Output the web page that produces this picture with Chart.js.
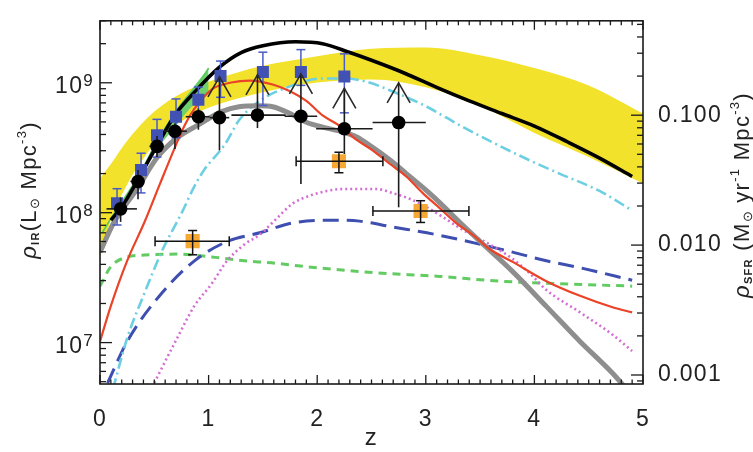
<!DOCTYPE html>
<html><head><meta charset="utf-8">
<script src="https://cdn.jsdelivr.net/npm/chart.js@4/dist/chart.umd.min.js"></script>
<style>html,body{margin:0;padding:0;background:#fff}canvas{display:block}</style>
</head><body>
<canvas id="c" width="753" height="452" style="width:753px;height:452px"></canvas>
<script>
// ---------------- data ----------------
const Z_MIN = 0, Z_MAX = 5;
const RHO_MIN = 4.8e6, RHO_MAX = 3.0e9;          // L_sun Mpc^-3
const SFR_PER_LIR = 1.776e-10;                    // right-axis conversion
const xTickValues = [0, 1, 2, 3, 4, 5];
const xTickLabels = ['0', '1', '2', '3', '4', '5'];
const rhoTickValues = [1e7, 1e8, 1e9];
const rhoTickExponents = ['7', '8', '9'];
const sfrTickValues = [0.001, 0.01, 0.1];
const sfrTickLabels = ['0.001', '0.010', '0.100'];

// yellow band
const bandZ     = [0, 0.1, 0.25, 0.5, 0.75, 1.0, 1.25, 1.5, 2.0, 2.5, 3.0, 3.5, 4.0, 4.5, 5.0];
const bandUpper = [1.83e8, 2.37e8, 3.58e8, 6.00e8, 8.32e8, 1.02e9, 1.19e9, 1.35e9, 1.60e9, 1.83e9, 1.87e9, 1.63e9, 1.30e9, 9.55e8, 5.80e8];
const bandLower = [4.64e7, 8.76e7, 1.65e8, 3.35e8, 5.05e8, 6.43e8, 7.51e8, 8.47e8, 1.005e9, 1.06e9, 9.22e8, 6.65e8, 4.11e8, 2.68e8, 1.68e8];

// black solid model
const blackZ   = [0.1, 0.2, 0.35, 0.53, 0.7, 0.87, 1.1, 1.3, 1.5, 1.8, 2.05, 2.3, 2.5, 2.8, 3.1, 3.4, 3.7, 4.0, 4.3, 4.6, 4.9];
const blackRho = [8.76e7, 1.11e8, 1.80e8, 3.35e8, 5.80e8, 8.47e8, 1.32e9, 1.71e9, 1.93e9, 2.07e9, 2.00e9, 1.71e9, 1.49e9, 1.19e9, 9.22e8, 7.25e8, 5.80e8, 4.64e8, 3.52e8, 2.63e8, 1.90e8];

// red solid model
const redZ   = [0, 0.1, 0.25, 0.41, 0.55, 0.69, 0.78, 0.87, 1.03, 1.21, 1.38, 1.59, 1.75, 1.9, 2.05, 2.21, 2.36, 2.51, 2.67, 2.82, 2.97, 3.13, 3.28, 3.43, 3.59, 3.8, 4.11, 4.42, 4.72, 4.9];
const redRho = [1.02e7, 1.92e7, 4.26e7, 8.47e7, 1.65e8, 3.18e8, 4.72e8, 6.32e8, 8.91e8, 1.005e9, 1.04e9, 9.71e8, 8.61e8, 7.25e8, 5.60e8, 4.64e8, 3.65e8, 3.02e8, 2.37e8, 1.90e8, 1.42e8, 1.08e8, 8.32e7, 6.77e7, 5.23e7, 4.18e7, 2.97e7, 2.29e7, 1.87e7, 1.71e7];

// thick grey model
const greyZ   = [0, 0.13, 0.34, 0.53, 0.71, 0.9, 1.12, 1.28, 1.47, 1.59, 1.75, 1.9, 2.05, 2.2, 2.36, 2.51, 2.67, 2.82, 3.01, 3.13, 3.31, 3.5, 3.8, 4.11, 4.42, 4.72, 4.9];
const greyRho = [4.97e7, 8.47e7, 1.52e8, 2.68e8, 3.77e8, 4.72e8, 6.00e8, 6.54e8, 6.65e8, 6.54e8, 5.80e8, 4.97e8, 4.56e8, 4.26e8, 3.84e8, 3.18e8, 2.54e8, 2.00e8, 1.47e8, 1.19e8, 8.47e7, 6.00e7, 3.52e7, 1.90e7, 1.02e7, 5.80e6, 3.9e6];

// cyan dash-dot model
const cyanZ   = [0.12, 0.25, 0.41, 0.57, 0.67, 0.75, 0.87, 0.96, 1.15, 1.28, 1.47, 1.75, 2.05, 2.25, 2.45, 2.69, 3.01, 3.31, 3.62, 3.93, 4.23, 4.6, 4.9];
const cyanRho = [4.4e6, 1.08e7, 2.41e7, 5.05e7, 7.38e7, 9.88e7, 1.60e8, 2.14e8, 3.35e8, 5.14e8, 7.25e8, 9.38e8, 1.08e9, 1.08e9, 1.02e9, 8.61e8, 6.54e8, 4.72e8, 3.46e8, 2.59e8, 2.00e8, 1.47e8, 1.04e8];

// magenta dotted model
const magZ   = [0.5, 0.71, 0.87, 1.03, 1.17, 1.33, 1.47, 1.63, 1.77, 1.93, 2.09, 2.23, 2.39, 2.55, 2.69, 2.85, 3.01, 3.16, 3.31, 3.47, 3.62, 3.8, 3.96, 4.11, 4.42, 4.72, 4.9];
const magRho = [4.9e6, 1.08e7, 1.92e7, 2.85e7, 4.26e7, 5.70e7, 6.77e7, 9.07e7, 1.17e8, 1.35e8, 1.47e8, 1.52e8, 1.52e8, 1.52e8, 1.42e8, 1.28e8, 1.10e8, 9.22e7, 7.64e7, 6.43e7, 5.51e7, 4.41e7, 3.40e7, 2.54e7, 1.71e7, 1.15e7, 8.61e6];

// blue long-dash model
const bdashZ   = [0.07, 0.25, 0.57, 0.87, 1.17, 1.47, 1.77, 2.09, 2.39, 2.69, 3.01, 3.31, 3.62, 3.8, 4.11, 4.42, 4.9];
const bdashRho = [4.88e6, 1.02e7, 2.41e7, 4.26e7, 6.00e7, 7.00e7, 8.32e7, 8.76e7, 8.61e7, 7.77e7, 7.00e7, 6.21e7, 5.41e7, 4.97e7, 4.26e7, 3.77e7, 3.02e7];

// green short-dash model
const gdashZ   = [0, 0.1, 0.25, 0.41, 0.71, 1.03, 1.33, 1.58, 1.9, 2.51, 3.13, 3.68, 4.9];
const gdashRho = [2.72e7, 3.84e7, 4.56e7, 4.72e7, 4.80e7, 4.56e7, 4.26e7, 4.11e7, 3.84e7, 3.46e7, 3.23e7, 2.97e7, 2.72e7];

// green thin solid line + narrow green wedge
const greenZ   = [0.02, 0.13, 0.34, 0.53, 0.73, 0.92, 1.0];
const greenRho = [7.0e7, 9.88e7, 1.83e8, 3.58e8, 6.54e8, 1.02e9, 1.30e9];
const wedgeZ     = [0.45, 0.7, 0.87, 1.0];
const wedgeUpper = [2.75e8, 6.1e8, 9.5e8, 1.30e9];
const wedgeLower = [2.6e8, 4.7e8, 6.9e8, 8.5e8];

// black circles (with arrows = lower limits above)
const circZ    = [0.19, 0.35, 0.525, 0.69, 0.906, 1.10, 1.45, 1.85, 2.25, 2.75];
const circRho  = [1.07e8, 1.74e8, 3.24e8, 4.24e8, 5.48e8, 5.39e8, 5.64e8, 5.53e8, 4.43e8, 4.94e8];
const circZlo  = [0.06, 0.28, 0.455, 0.59, 0.79, 1.01, 1.21, 1.70, 1.99, 2.51];
const circZhi  = [0.34, 0.41, 0.59, 0.80, 1.01, 1.19, 1.71, 2.00, 2.51, 3.00];
const circLo   = [8.5e7, 1.27e8, 2.68e8, 3.09e8, 4.35e8, 3.02e8, 4.48e8, 1.66e8, 2.83e8, 1.10e8];
const circHi   = [1.31e8, 2.13e8, 3.89e8, 4.88e8, 6.32e8, 1.11e9, 1.15e9, 1.17e9, 9.06e8, 1.00e9];
const circArrow = [0, 0, 0, 0, 0, 1, 1, 1, 1, 1];

// blue squares
const sqZ   = [0.157, 0.378, 0.525, 0.70, 0.906, 1.11, 1.50, 1.85, 2.25];
const sqRho = [1.18e8, 2.13e8, 3.95e8, 5.48e8, 7.41e8, 1.13e9, 1.21e9, 1.21e9, 1.12e9];
const sqLo  = [8.04e7, 1.42e8, 2.68e8, 3.77e8, 5.9e8, 7.73e8, 6.69e8, 9.55e8, 5.87e8];
const sqHi  = [1.53e8, 2.87e8, 5.23e8, 7.51e8, 9.27e8, 1.47e9, 1.72e9, 1.80e9, 1.67e9];

// orange squares
const orZ   = [0.853, 2.20, 2.952];
const orRho = [6.04e7, 2.49e8, 1.03e8];
const orZlo = [0.507, 1.806, 2.513];
const orZhi = [1.19, 2.605, 3.397];
const orLo  = [4.74e7, 2.03e8, 8.41e7];
const orHi  = [7.29e7, 2.92e8, 1.236e8];

// ---------------- helpers ----------------
const FONT = '"Liberation Sans", Arial, Helvetica, sans-serif';
const pts = (zs, vs) => zs.map((z, i) => ({x: z, y: vs[i]}));
const curve = (label, zs, vs, color, width, dash) => ({
  label, data: pts(zs, vs), borderColor: color, borderWidth: width, borderDash: dash || [],
  pointRadius: 0, fill: false, cubicInterpolationMode: 'monotone', showLine: true, borderCapStyle: 'butt'
});

const datasets = [
  {label: 'orange', data: pts(orZ, orRho), showLine: false, pointStyle: 'rect', pointRadius: 10,
   backgroundColor: '#f7a733', borderColor: '#f7a733', borderWidth: 0, errKind: 'orange'},
  {label: 'circles', data: pts(circZ, circRho), showLine: false, pointStyle: 'circle', pointRadius: 6.8,
   backgroundColor: '#000', borderColor: '#000', borderWidth: 0, errKind: 'circle'},
  {label: 'squares', data: pts(sqZ, sqRho), showLine: false, pointStyle: 'rect', pointRadius: 8.5,
   backgroundColor: '#4152b4', borderColor: '#4152b4', borderWidth: 0, errKind: 'square'},
  curve('black', blackZ, blackRho, '#000000', 3.6),
  curve('red', redZ, redRho, '#ea4327', 2.2),
  curve('grey', greyZ, greyRho, '#8e8e8e', 5),
  curve('cyan', cyanZ, cyanRho, '#6ccfe2', 2.6, [11, 4, 2, 4]),
  curve('magenta', magZ, magRho, '#d36ed3', 2.6, [2, 3]),
  curve('bluedash', bdashZ, bdashRho, '#3f4fb0', 3, [16, 8]),
  curve('greendash', gdashZ, gdashRho, '#62cc62', 3, [8, 6]),
  curve('green', greenZ, greenRho, '#5cc85c', 1.6),
  Object.assign(curve('wedgeU', wedgeZ, wedgeUpper, 'rgba(0,0,0,0)', 0), {fill: '+1', backgroundColor: '#6fd06f'}),
  curve('wedgeL', wedgeZ, wedgeLower, 'rgba(0,0,0,0)', 0),
  Object.assign(curve('bandU', bandZ, bandUpper, 'rgba(0,0,0,0)', 0), {fill: '+1', backgroundColor: '#f3e22c'}),
  curve('bandL', bandZ, bandLower, 'rgba(0,0,0,0)', 0)
];

function seg(ctx, x1, y1, x2, y2) { ctx.beginPath(); ctx.moveTo(x1, y1); ctx.lineTo(x2, y2); ctx.stroke(); }

const errPlugin = {
  id: 'errbars',
  beforeDatasetDraw(chart, args) {
    const ds = chart.data.datasets[args.index];
    const {ctx} = chart; const X = chart.scales.x, Y = chart.scales.y;
    if (ds.errKind === 'circle') {
      ctx.save(); ctx.strokeStyle = '#1c1c1c'; ctx.lineWidth = 1.6;
      circZ.forEach((z, i) => {
        const px = X.getPixelForValue(z), py = Y.getPixelForValue(circRho[i]);
        seg(ctx, X.getPixelForValue(circZlo[i]), py, X.getPixelForValue(circZhi[i]), py);
        const top = Y.getPixelForValue(circHi[i]);
        seg(ctx, px, Y.getPixelForValue(circLo[i]), px, top);
        if (circArrow[i]) {
          ctx.strokeStyle = '#2a2a2a';
          ctx.beginPath(); ctx.moveTo(px - 11.5, top + 20); ctx.lineTo(px, top); ctx.lineTo(px + 11.5, top + 20); ctx.stroke();
          ctx.strokeStyle = '#1c1c1c';
        }
      });
      ctx.restore();
    } else if (ds.errKind === 'square') {
      ctx.save(); ctx.strokeStyle = '#4a5cc6'; ctx.lineWidth = 1.5;
      sqZ.forEach((z, i) => {
        const px = X.getPixelForValue(z), lo = Y.getPixelForValue(sqLo[i]), hi = Y.getPixelForValue(sqHi[i]);
        seg(ctx, px, lo, px, hi); seg(ctx, px - 4.5, lo, px + 4.5, lo); seg(ctx, px - 4.5, hi, px + 4.5, hi);
      });
      ctx.restore();
    }
  },
  afterDatasetDraw(chart, args) {
    const ds = chart.data.datasets[args.index];
    if (ds.errKind !== 'orange') return;
    const {ctx} = chart; const X = chart.scales.x, Y = chart.scales.y;
    ctx.save(); ctx.strokeStyle = '#111'; ctx.lineWidth = 1.5;
    orZ.forEach((z, i) => {
      const px = X.getPixelForValue(z), py = Y.getPixelForValue(orRho[i]);
      const l = X.getPixelForValue(orZlo[i]), r = X.getPixelForValue(orZhi[i]);
      const lo = Y.getPixelForValue(orLo[i]), hi = Y.getPixelForValue(orHi[i]);
      seg(ctx, l, py, r, py); seg(ctx, l, py - 5, l, py + 5); seg(ctx, r, py - 5, r, py + 5);
      seg(ctx, px, lo, px, hi); seg(ctx, px - 4.5, lo, px + 4.5, lo); seg(ctx, px - 4.5, hi, px + 4.5, hi);
    });
    ctx.restore();
  }
};

function drawRich(ctx, parts, cx, cy, rot) {
  ctx.save(); ctx.translate(cx, cy); ctx.rotate(rot);
  ctx.textAlign = 'left'; ctx.textBaseline = 'alphabetic'; ctx.fillStyle = '#222';
  let total = 0;
  parts.forEach(p => { ctx.font = p.f; p.w = ctx.measureText(p.t).width; total += p.w; });
  let x = -total / 2;
  parts.forEach(p => { ctx.font = p.f; ctx.fillText(p.t, x, 8 + (p.dy || 0)); x += p.w; });
  ctx.restore();
}

const framePlugin = {
  id: 'frame',
  beforeDraw(chart) { chart.ctx.letterSpacing = '1.3px'; },
  afterDraw(chart) {
    const {ctx, chartArea: a} = chart; const X = chart.scales.x, Y = chart.scales.y, Y2 = chart.scales.y2;
    ctx.save();
    ctx.strokeStyle = '#1a1a1a'; ctx.lineWidth = 1.6;
    ctx.strokeRect(a.left, a.top, a.right - a.left, a.bottom - a.top);
    ctx.lineWidth = 1.3;
    for (let i = 0; i <= 50; i++) {
      const px = X.getPixelForValue(i / 10), len = i % 10 === 0 ? 9 : 4.5;
      seg(ctx, px, a.bottom, px, a.bottom - len); seg(ctx, px, a.top, px, a.top + len);
    }
    for (let e = 6; e <= 9; e++) for (let m = 1; m <= 9; m++) {
      const v = m * Math.pow(10, e); if (v < RHO_MIN || v > RHO_MAX) continue;
      const py = Y.getPixelForValue(v); seg(ctx, a.left, py, a.left + (m === 1 ? 12 : 6), py);
    }
    for (let e = -4; e <= -1; e++) for (let m = 1; m <= 9; m++) {
      const v = m * Math.pow(10, e); if (v < Y2.min || v > Y2.max) continue;
      const py = Y2.getPixelForValue(v); seg(ctx, a.right, py, a.right - (m === 1 ? 12 : 6), py);
    }
    // left tick labels 10^n
    ctx.fillStyle = '#222'; ctx.textAlign = 'left'; ctx.textBaseline = 'alphabetic';
    rhoTickValues.forEach((v, i) => {
      const py = Y.getPixelForValue(v);
      ctx.font = '23px ' + FONT; const w1 = ctx.measureText('10').width;
      ctx.font = '17px ' + FONT; const w2 = ctx.measureText(rhoTickExponents[i]).width;
      const x0 = a.left - 6 - w1 - w2;
      ctx.font = '23px ' + FONT; ctx.fillText('10', x0, py + 10);
      ctx.font = '17px ' + FONT; ctx.fillText(rhoTickExponents[i], x0 + w1, py + 3);
    });
    // axis titles
    const big = '22px ' + FONT, ital = 'italic 22px ' + FONT, sub = 'bold 11px ' + FONT, small = '13px ' + FONT;
    drawRich(ctx, [{t: 'ρ', f: ital}, {t: 'IR', f: sub, dy: 3}, {t: '(L', f: big}, {t: '⊙', f: small, dy: 3},
                   {t: ' Mpc', f: big}, {t: '-3', f: small, dy: -10}, {t: ')', f: big}], 28, 190, -Math.PI / 2);
    drawRich(ctx, [{t: 'ρ', f: ital}, {t: 'SFR', f: sub, dy: 3}, {t: ' (M', f: big}, {t: '⊙', f: small, dy: 3},
                   {t: ' yr', f: big}, {t: '-1', f: small, dy: -10}, {t: ' Mpc', f: big}, {t: '-3', f: small, dy: -10},
                   {t: ')', f: big}], 741, 195, -Math.PI / 2);
    ctx.font = '24px ' + FONT; ctx.textAlign = 'center'; ctx.textBaseline = 'middle';
    ctx.fillText('z', (a.left + a.right) / 2, 438);
    ctx.restore();
  }
};

new Chart(document.getElementById('c'), {
  type: 'line',
  data: {datasets},
  options: {
    responsive: false, devicePixelRatio: 1, animation: false, events: [],
    layout: {padding: {top: 9, left: 0, right: 0, bottom: 0}},
    plugins: {legend: {display: false}, tooltip: {enabled: false}},
    scales: {
      x: {type: 'linear', position: 'bottom', min: Z_MIN, max: Z_MAX,
          afterFit(s) { s.height = 68; },
          grid: {display: false}, border: {display: false},
          ticks: {stepSize: 1, autoSkip: false, maxRotation: 0, padding: 14, color: '#222',
                  font: {family: FONT, size: 23},
                  callback: v => { const k = xTickValues.indexOf(Math.round(v * 1000) / 1000); return k >= 0 ? xTickLabels[k] : ''; }}},
      y: {type: 'logarithmic', position: 'left', min: RHO_MIN, max: RHO_MAX,
          afterFit(s) { s.width = 100; },
          grid: {display: false}, border: {display: false}, ticks: {display: false}},
      y2: {type: 'logarithmic', position: 'right', min: RHO_MIN * SFR_PER_LIR, max: RHO_MAX * SFR_PER_LIR,
           afterFit(s) { s.width = 110; },
           grid: {display: false}, border: {display: false},
           ticks: {autoSkip: false, padding: 7, color: '#222', font: {family: FONT, size: 23},
                   callback: v => { const k = sfrTickValues.findIndex(t => Math.abs(Math.log10(v) - Math.log10(t)) < 1e-6); return k >= 0 ? sfrTickLabels[k] : ''; }}}
    }
  },
  plugins: [errPlugin, framePlugin]
});
</script>
</body></html>
